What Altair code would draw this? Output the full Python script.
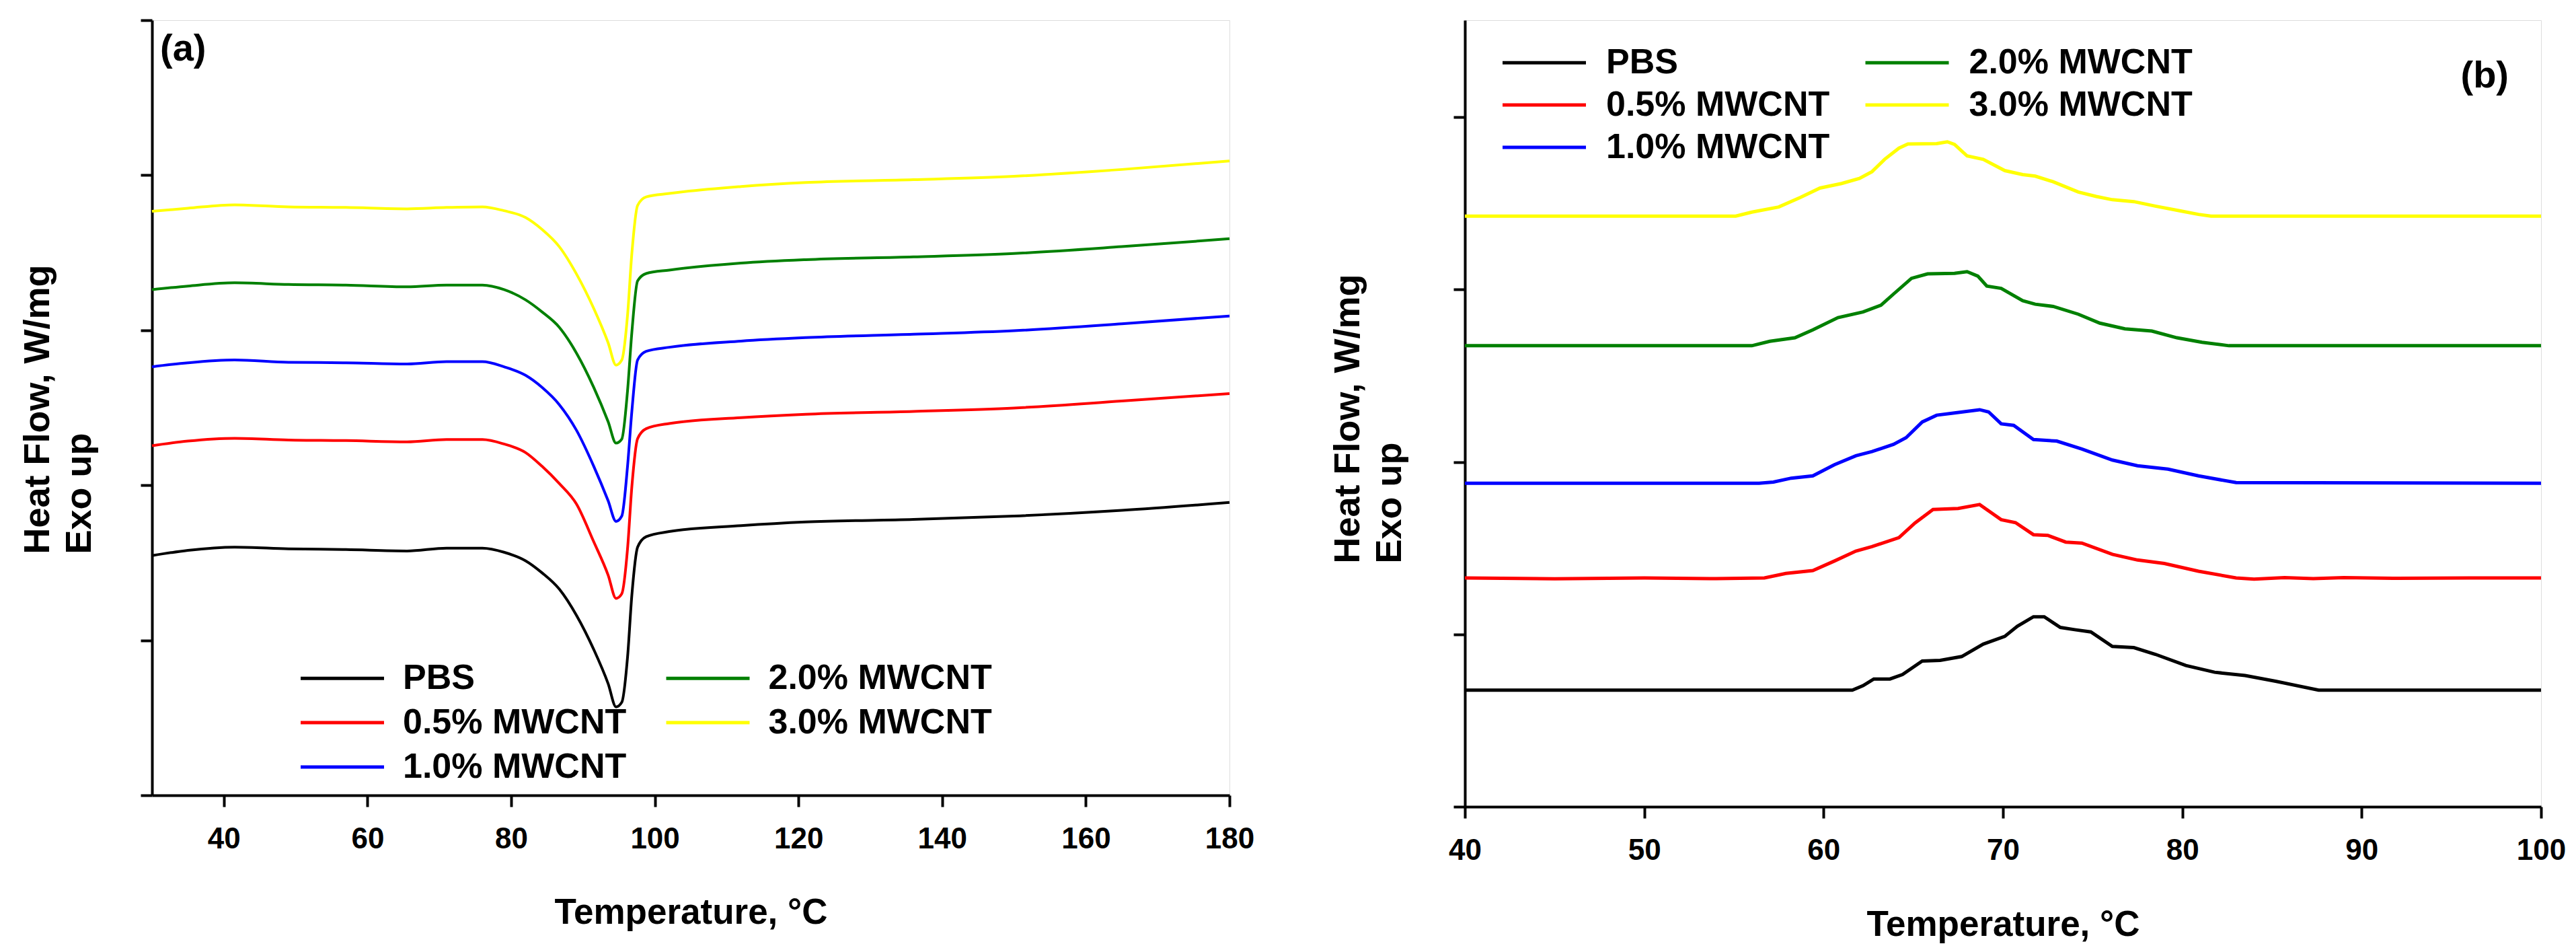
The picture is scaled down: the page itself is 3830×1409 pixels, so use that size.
import altair as alt
import pandas as pd

FONT = "Liberation Sans"

series = ["PBS", "0.5% MWCNT", "1.0% MWCNT", "2.0% MWCNT", "3.0% MWCNT"]
line_colors = ["#000000", "#ff0000", "#0000ff", "#008000", "#ffff00"]

# ---- panel (a): heating scan (arbitrary heat-flow units)
temp_a = [30, 35, 41.5, 49, 57, 65.5, 71, 76, 79, 82, 84.3, 86.7, 89.1, 91.5, 93.5,
          94.6, 95.4, 96.2, 96.8, 97.6, 98.8, 102, 112, 121, 136, 150, 165, 180]
pbs_a = [1.546, 1.580, 1.601, 1.590, 1.585, 1.576, 1.594, 1.594, 1.568, 1.513, 1.435,
         1.330, 1.160, 0.940, 0.720, 0.570, 0.600, 0.890, 1.290, 1.600, 1.668, 1.701,
         1.739, 1.763, 1.779, 1.801, 1.838, 1.889]
mw05_a = [2.255, 2.285, 2.303, 2.292, 2.288, 2.280, 2.295, 2.295, 2.266, 2.211, 2.122,
          2.011, 1.878, 1.635, 1.420, 1.270, 1.300, 1.590, 1.990, 2.300, 2.365, 2.398,
          2.436, 2.458, 2.476, 2.498, 2.543, 2.591]
mw10_a = [2.764, 2.790, 2.808, 2.793, 2.790, 2.782, 2.797, 2.797, 2.764, 2.709, 2.631,
          2.520, 2.354, 2.122, 1.900, 1.767, 1.801, 2.122, 2.476, 2.808, 2.864, 2.890,
          2.930, 2.952, 2.974, 2.997, 3.041, 3.092]
mw20_a = [3.262, 3.285, 3.306, 3.295, 3.291, 3.280, 3.291, 3.291, 3.262, 3.196, 3.118,
          3.019, 2.852, 2.631, 2.410, 2.272, 2.298, 2.609, 2.985, 3.318, 3.366, 3.388,
          3.433, 3.455, 3.473, 3.495, 3.539, 3.590]
mw30_a = [3.767, 3.787, 3.809, 3.796, 3.792, 3.783, 3.792, 3.796, 3.771, 3.727, 3.650,
          3.539, 3.362, 3.140, 2.919, 2.775, 2.808, 3.096, 3.495, 3.805, 3.860, 3.882,
          3.927, 3.953, 3.971, 3.993, 4.037, 4.092]

# ---- panel (b): cooling scan, each curve has its own read-off temperatures
pbs_b_t = [40, 61.6, 62.2, 62.8, 63.7, 64.4, 65.5, 66.5, 67.7, 68.9, 70.1, 70.8, 71.7,
           72.3, 73.2, 74.0, 74.9, 76.1, 77.3, 78.5, 80.2, 81.8, 83.5, 85.2, 87.6, 100]
pbs_b = [0.676, 0.676, 0.702, 0.741, 0.741, 0.767, 0.845, 0.849, 0.871, 0.943, 0.988,
         1.047, 1.102, 1.102, 1.040, 1.027, 1.014, 0.930, 0.923, 0.884, 0.819, 0.780,
         0.761, 0.728, 0.676, 0.676]
mw05_b_t = [40, 45, 50, 54, 56.7, 57.9, 59.4, 60.6, 61.8, 62.7, 64.2, 65.1, 66.1, 67.5,
            68.7, 69.9, 70.7, 71.7, 72.5, 73.5, 74.4, 76.1, 77.5, 79.0, 80.9, 83.0, 84.0,
            85.7, 87.3, 89.0, 92, 96, 100]
mw05_b = [1.327, 1.322, 1.327, 1.323, 1.327, 1.353, 1.370, 1.425, 1.483, 1.509, 1.561,
          1.646, 1.724, 1.730, 1.753, 1.665, 1.648, 1.578, 1.574, 1.535, 1.529, 1.464,
          1.431, 1.411, 1.366, 1.327, 1.320, 1.329, 1.323, 1.329, 1.325, 1.327, 1.327]
mw10_b_t = [40, 56.4, 57.2, 58.2, 59.4, 60.6, 61.8, 62.7, 63.9, 64.6, 65.5, 66.3, 67.3,
            68.7, 69.2, 69.9, 70.6, 71.7, 73.0, 74.4, 76.1, 77.5, 79.2, 80.9, 83.0, 100]
mw10_b = [1.876, 1.876, 1.883, 1.906, 1.919, 1.984, 2.036, 2.060, 2.102, 2.141, 2.232,
          2.271, 2.284, 2.303, 2.290, 2.221, 2.212, 2.130, 2.121, 2.075, 2.011, 1.978,
          1.958, 1.919, 1.880, 1.876]
mw20_b_t = [40, 56.0, 57.0, 58.4, 59.4, 60.8, 62.2, 63.2, 63.9, 64.9, 65.8, 67.3, 68.0,
            68.6, 69.1, 69.9, 71.1, 71.8, 72.8, 74.2, 75.4, 76.8, 78.3, 79.7, 81.1, 82.6, 100]
mw20_b = [2.674, 2.674, 2.700, 2.720, 2.766, 2.837, 2.870, 2.909, 2.974, 3.065, 3.091,
          3.094, 3.104, 3.078, 3.020, 3.007, 2.935, 2.915, 2.902, 2.857, 2.805, 2.772,
          2.759, 2.720, 2.694, 2.674, 2.674]
mw30_b_t = [40, 55.1, 56.0, 57.5, 58.7, 59.8, 61.0, 62.0, 62.7, 63.4, 64.2, 64.7, 66.3,
            66.9, 67.3, 68.0, 68.9, 70.1, 71.1, 71.8, 72.8, 74.2, 75.2, 76.1, 77.3, 78.5,
            79.9, 80.9, 81.6, 100]
mw30_b = [3.426, 3.426, 3.449, 3.479, 3.534, 3.589, 3.615, 3.645, 3.684, 3.755, 3.820,
          3.844, 3.846, 3.857, 3.842, 3.775, 3.755, 3.690, 3.667, 3.658, 3.625, 3.566,
          3.540, 3.521, 3.510, 3.484, 3.456, 3.436, 3.426, 3.426]


def long_frame(curves):
    rows = []
    for name, xs, ys in curves:
        for x, y in zip(xs, ys):
            rows.append({"temp": x, "hf": y, "series": name})
    return pd.DataFrame(rows)


df_a = long_frame([
    (series[0], temp_a, pbs_a), (series[1], temp_a, mw05_a), (series[2], temp_a, mw10_a),
    (series[3], temp_a, mw20_a), (series[4], temp_a, mw30_a),
])
df_b = long_frame([
    (series[0], pbs_b_t, pbs_b), (series[1], mw05_b_t, mw05_b), (series[2], mw10_b_t, mw10_b),
    (series[3], mw20_b_t, mw20_b), (series[4], mw30_b_t, mw30_b),
])

axis_common = dict(
    domainColor="black", domainWidth=4, tickColor="black", tickWidth=4, tickSize=17,
    grid=False, labelFont=FONT, labelFontSize=44, labelFontWeight="bold", labelColor="black",
    titleFont=FONT, titleFontWeight="bold", titleColor="black",
)


def make_legend(lx, ly, label_off, row_pad, col_pad):
    # a long dash drawn as a custom path keeps the rows close together
    return alt.Legend(
        orient="none", legendX=lx, legendY=ly, direction="vertical", columns=2,
        symbolType="M-2,0H2", symbolSize=3844, symbolStrokeWidth=5,
        labelFont=FONT, labelFontSize=52, labelFontWeight="bold", labelColor="black",
        labelOffset=label_off, labelLimit=800, rowPadding=row_pad, columnPadding=col_pad,
        padding=0,
    )


def panel(df, x_dom, x_ticks, y_dom, y_ticks, w, h, line_w, interp, legend, title,
          ytx, yty, xty):
    return alt.Chart(df, title=title).mark_line(strokeWidth=line_w, interpolate=interp).encode(
        x=alt.X("temp:Q", scale=alt.Scale(domain=x_dom, nice=False, zero=False),
                axis=alt.Axis(values=x_ticks, title="Temperature, °C", titleFontSize=53,
                              titleY=xty, titleBaseline="alphabetic",
                              labelBaseline="alphabetic", labelPadding=61,
                              labelFlush=False, labelOverlap=False, **axis_common)),
        y=alt.Y("hf:Q", scale=alt.Scale(domain=y_dom, nice=False, zero=False),
                axis=alt.Axis(values=y_ticks, labels=False,
                              title=["Heat Flow, W/mg", "Exo up"], titleFontSize=54,
                              titleAngle=270, titleAlign="left", titleBaseline="top",
                              titleX=ytx, titleY=yty, titleLineHeight=62, **axis_common)),
        color=alt.Color("series:N", scale=alt.Scale(domain=series, range=line_colors),
                        legend=legend, title=None),
    ).properties(width=w, height=h)


# panel labels sit inside the frames (negative offset pulls them down)
title_a = alt.Title("(a)", anchor="start", orient="top", frame="group",
                    dx=12, offset=-74, fontSize=56, font=FONT, fontWeight="bold",
                    color="black")
title_b = alt.Title("(b)", anchor="end", orient="top", frame="group",
                    dx=-48, offset=-112, fontSize=56, font=FONT, fontWeight="bold",
                    color="black")

chart_a = panel(df_a, [30, 180], list(range(40, 181, 20)), [0, 5], [0, 1, 2, 3, 4, 5],
                1602, 1152, 4, "monotone", make_legend(249.5, 944.5, 56.5, 6, 48.5),
                title_a, -197, 793, 190)
chart_b = panel(df_b, [40, 100], list(range(40, 101, 10)), [0, 4.5625], [0, 1, 2, 3, 4],
                1600, 1169, 5, "linear", make_legend(84.5, 29.5, 58.5, 3, 42.5),
                title_b, -201, 807, 191)

chart = alt.hconcat(chart_a, chart_b, spacing=110).resolve_scale(
    color="independent"
).resolve_legend(
    color="independent"
).properties(
    padding={"left": 20, "top": 19, "right": 0, "bottom": 0}
).configure_view(
    stroke="black", strokeWidth=4
).configure(
    background="white"
)

chart.save("out.html", embed_options={"renderer": "svg", "actions": False})
